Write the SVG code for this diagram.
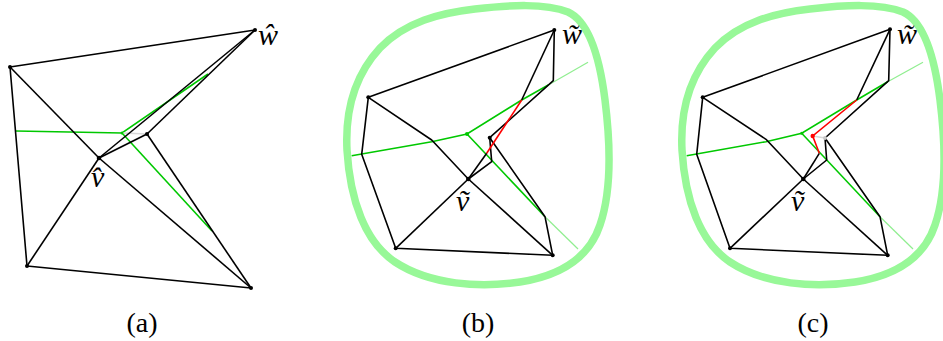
<svg xmlns="http://www.w3.org/2000/svg" width="943" height="341" viewBox="0 0 943 341">
<style>
.e{fill:none;stroke:#000;stroke-width:1.6;stroke-linejoin:round}
.g{fill:none;stroke:#00c800;stroke-width:1.6}
.lg{fill:none;stroke:#90ee90;stroke-width:1.2}
.gr{fill:none;stroke:#d8d8d8;stroke-width:1.5}
.r{fill:none;stroke:#ff0000;stroke-width:1.6}
.b{fill:none;stroke:#98f898;stroke-width:7.5}
.n{fill:#000}
text{font-family:'Liberation Serif','Times New Roman',serif;fill:#000}
.lab{font-style:italic;font-size:30px}
.cap{font-size:28px;text-anchor:middle}
</style>
<defs>
<path id="blob" d="M347,150 C345,110 355,75 380,48 C405,22 440,13 475,9 C510,5 545,3 568,12 C590,22 600,60 605,100 C610,140 612,190 600,225 C590,255 565,275 520,282 C480,288 430,285 395,262 C365,242 350,200 347,150 Z"/>
</defs>
<g id="panel-a">
<g id="connectors-a">
<polyline class="g" points="16,131 122,133 208,74"/>
<line class="g" x1="122" y1="133" x2="212" y2="231"/>
<line class="gr" x1="122" y1="133" x2="147" y2="134"/>
<polyline class="e" points="10,67 255,30"/>
<polyline class="e" points="10,67 27,266 251,288"/>
<line class="e" x1="10" y1="67" x2="99" y2="158"/>
<line class="e" x1="99" y1="158" x2="251" y2="288"/>
<line class="e" x1="27" y1="266" x2="99" y2="158"/>
<line class="e" x1="99" y1="158" x2="255" y2="30"/>
<line class="e" x1="99" y1="158" x2="147" y2="134"/>
<line class="e" x1="147" y1="134" x2="255" y2="30"/>
<line class="e" x1="147" y1="134" x2="251" y2="288"/>
</g>
<g id="nodes-a">
<circle class="n" cx="10" cy="67" r="2"/>
<circle class="n" cx="255" cy="30" r="2"/>
<circle class="n" cx="27" cy="266" r="2"/>
<circle class="n" cx="251" cy="288" r="2"/>
<circle class="n" cx="99" cy="158" r="2.3"/>
<circle class="n" cx="147" cy="134" r="2"/>
<circle cx="122" cy="133" r="1.5" fill="#00c800"/>
</g>
<text class="lab" x="258" y="45">ŵ</text>
<text class="lab" x="91" y="187">v̂</text>
<text class="cap" x="142" y="332">(a)</text>
</g>
<g id="panel-b">
<use href="#blob" class="b"/>
<g id="connectors-b">
<polyline class="g" points="351.7,155.7 431.7,141.7 467,134 521.7,100 548.3,85"/>
<line class="lg" x1="548.3" y1="85" x2="588" y2="62.3"/>
<line class="g" x1="467" y1="134" x2="545" y2="216.7"/>
<line class="lg" x1="545" y1="216.7" x2="578" y2="249"/>
<line class="e" x1="368.3" y1="97.3" x2="554.3" y2="30"/>
<polyline class="e" points="368.3,97.3 361.7,154.3 395.7,248.3 552.7,255.3"/>
<line class="e" x1="395.7" y1="248.3" x2="468.3" y2="179"/>
<line class="e" x1="468.3" y1="179" x2="552.7" y2="255.3"/>
<polyline class="e" points="368.3,97.3 431.7,140 468.3,179"/>
<polyline class="e" points="554.3,30 553.3,80.7 489.7,137.7"/>
<polyline class="e" points="489.7,137.7 491.7,161.7 468.3,179"/>
<polyline class="e" points="489.7,137.7 545,216.7 552.7,255.3"/>
<line class="e" x1="554.3" y1="30" x2="521.7" y2="100"/>
<line class="e" x1="486.7" y1="153.3" x2="468.3" y2="179"/>
<line class="r" x1="521.7" y1="100" x2="486.7" y2="153.3"/>
</g>
<g id="nodes-b">
<circle class="n" cx="554.3" cy="30" r="2"/>
<circle class="n" cx="368.3" cy="97.3" r="2"/>
<circle class="n" cx="395.7" cy="248.3" r="2"/>
<circle class="n" cx="552.7" cy="255.3" r="2"/>
<circle class="n" cx="468.3" cy="179" r="2.3"/>
<circle class="n" cx="489.7" cy="137.7" r="2"/>
<circle cx="467" cy="134" r="2" fill="#00c800"/>
</g>
<text class="lab" x="562" y="44">w̃</text>
<text class="lab" x="456" y="211">ṽ</text>
<text class="cap" x="478" y="332">(b)</text>
</g>
<g id="panel-c">
<use href="#blob" class="b" transform="translate(335,0)"/>
<g id="connectors-c">
<polyline class="g" points="686.7,155.7 766,141.7 801.7,133.3 856.7,100 887.7,81.7"/>
<line class="lg" x1="887.7" y1="81.7" x2="923" y2="62.3"/>
<line class="g" x1="801.7" y1="133.3" x2="880" y2="216.7"/>
<line class="lg" x1="880" y1="216.7" x2="913" y2="249"/>
<line class="gr" x1="812.7" y1="136" x2="825" y2="138"/>
<line class="e" x1="702.7" y1="97.3" x2="890" y2="29.3"/>
<polyline class="e" points="702.7,97.3 696.7,154.3 730,248.3 887.7,255.3"/>
<line class="e" x1="730" y1="248.3" x2="803.3" y2="179"/>
<line class="e" x1="803.3" y1="179" x2="887.7" y2="255.3"/>
<polyline class="e" points="702.7,97.3 766,139.3 803.3,179"/>
<polyline class="e" points="890,29.3 888.7,80.7 825,138"/>
<polyline class="e" points="825,138 826.7,160 803.3,179"/>
<polyline class="e" points="825,138 880,216.7 887.7,255.3"/>
<line class="e" x1="890" y1="29.3" x2="856.7" y2="100"/>
<line class="e" x1="819.3" y1="153.3" x2="803.3" y2="179"/>
<polyline class="r" points="856.7,100 812.7,136 819.3,153.3"/>
</g>
<g id="nodes-c">
<circle class="n" cx="890" cy="29.3" r="2"/>
<circle class="n" cx="702.7" cy="97.3" r="2"/>
<circle class="n" cx="730" cy="248.3" r="2"/>
<circle class="n" cx="887.7" cy="255.3" r="2"/>
<circle class="n" cx="803.3" cy="179" r="2.3"/>
<circle cx="825" cy="138" r="2" fill="#c8c8c8"/>
<circle cx="801.7" cy="133.3" r="1.5" fill="#00c800"/>
<circle cx="812.7" cy="136" r="2.2" fill="#ff0000"/>
</g>
<text class="lab" x="897" y="44">w̃</text>
<text class="lab" x="791" y="211">ṽ</text>
<text class="cap" x="813" y="332">(c)</text>
</g>
</svg>
